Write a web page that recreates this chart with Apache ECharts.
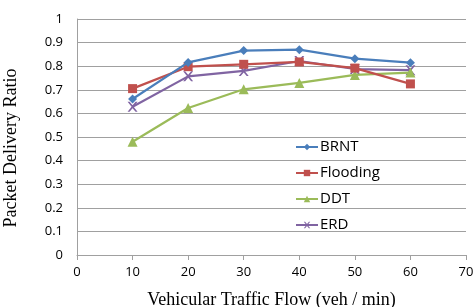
<!DOCTYPE html>
<html><head><meta charset="utf-8">
<script src="https://cdn.jsdelivr.net/npm/echarts@6/dist/echarts.min.js"></script>
<style>html,body{margin:0;padding:0;background:#fff}#c{width:474px;height:307px}</style>
</head><body><div id="c"></div>
<script>
const categories = [10, 20, 30, 40, 50, 60];
const brnt = [0.661, 0.816, 0.866, 0.870, 0.832, 0.815];
const flooding = [0.705, 0.798, 0.808, 0.818, 0.792, 0.725];
const ddt = [0.480, 0.623, 0.702, 0.729, 0.763, 0.773];
const erd = [0.628, 0.757, 0.780, 0.822, 0.788, 0.783];
const seriesNames = ['BRNT', 'Flooding', 'DDT', 'ERD'];

const colors = ['#4a7ebb', '#c0504d', '#9bbb59', '#8064a2'];
const xPath = 'path://M0,0L2,0L5,3.5L8,0L10,0L6,5L10,10L8,10L5,6.5L2,10L0,10L4,5Z';
const symbols = ['diamond', 'rect', 'triangle', xPath];
const sizes = [9, 9, 10, 10];
const datas = [brnt, flooding, ddt, erd];

const chart = echarts.init(document.getElementById('c'));
chart.setOption({
  animation: false,
  grid: {left: 77, right: 8, top: 19, bottom: 52, outerBoundsMode: 'none', containLabel: false},
  legend: {
    orient: 'vertical', left: 290, top: 133, itemGap: 8,
    itemWidth: 22, itemHeight: 8,
    textStyle: {fontFamily: 'Open Sans', fontSize: 15, lineHeight: 18, color: '#000', padding: [0,0,0,-3]},
    data: seriesNames
  },
  xAxis: {
    type: 'value', min: 0, max: 70, interval: 10,
    name: 'Vehicular Traffic Flow (veh / min)', nameLocation: 'middle', nameGap: 36,
    nameTextStyle: {fontFamily: 'Liberation Serif', fontSize: 18, color: '#000'},
    axisLine: {show: true, lineStyle: {color: '#a0a0a0'}},
    axisTick: {show: true, length: 5, lineStyle: {color: '#a0a0a0'}},
    axisLabel: {fontFamily: 'Open Sans', fontSize: 13, color: '#000', margin: 11},
    splitLine: {show: false}
  },
  yAxis: {
    type: 'value', min: 0, max: 1, interval: 0.1,
    name: 'Packet Delivery Ratio', nameLocation: 'middle', nameGap: 57,
    nameTextStyle: {fontFamily: 'Liberation Serif', fontSize: 18, color: '#000', padding: [0, 22, 0, 0]},
    axisLine: {show: true, lineStyle: {color: '#a0a0a0'}},
    axisTick: {show: false},
    axisLabel: {fontFamily: 'Open Sans', fontSize: 13, color: '#000', margin: 14},
    splitLine: {show: true, lineStyle: {color: '#a0a0a0'}}
  },
  series: seriesNames.map((n, i) => ({
    name: n, type: 'line',
    data: categories.map((c, j) => [c, datas[i][j]]),
    symbol: symbols[i], symbolSize: sizes[i],
    lineStyle: {color: colors[i], width: 2.2},
    itemStyle: {color: colors[i]},
    z: 10 - i
  }))
});
</script></body></html>
